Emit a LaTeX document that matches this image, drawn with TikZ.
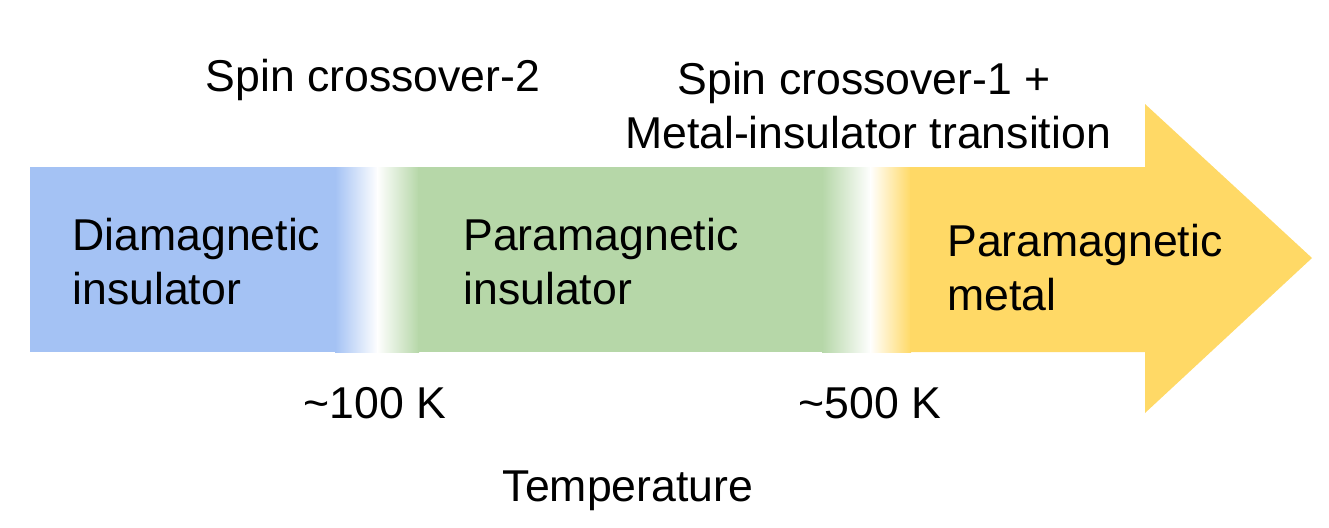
\documentclass[tikz,border=0pt]{standalone}
\usepackage{fontspec}
\setmainfont{Liberation Sans}
\definecolor{cblue}{HTML}{A4C2F4}
\definecolor{cgreen}{HTML}{B6D7A8}
\definecolor{cyellow}{HTML}{FFD966}
\begin{document}
\begin{tikzpicture}[x=0.5pt,y=-0.5pt,
  lbl/.style={inner sep=0pt,font=\fontsize{22.3}{27}\selectfont,text=black}]
\useasboundingbox (0,0) rectangle (1329,527);
% bar
\fill[cblue] (30,167) rectangle (336,352);
\shade[left color=cblue,right color=white] (335,167) rectangle (378,352);
\shade[left color=white,right color=cgreen] (377,167) rectangle (419,352);
\fill[cgreen] (418,167) rectangle (823,352);
\shade[left color=cgreen,right color=white] (822,167) rectangle (871,352);
\shade[left color=white,right color=cyellow] (870,167) rectangle (911,352);
\fill[cyellow] (910,167) -- (1145,167) -- (1145,104) -- (1312,258) -- (1145,413) -- (1145,352) -- (910,352) -- cycle;
% labels
\node[lbl] (sc2) at (373,80) {Spin crossover-2};
\node[lbl,align=center] (sc1) at (868,106) {Spin crossover-1 +\hspace*{4pt}\\Metal-insulator transition};
\node[lbl,align=left,anchor=west] (di) at (72,262) {Diamagnetic\\insulator};
\node[lbl,align=left,anchor=west] (pi) at (463,262) {Paramagnetic\\insulator};
\node[lbl,align=left,anchor=west] (pm) at (947,268) {Paramagnetic\\metal};
\node[lbl] (t1) at (375,403) {\char`~100 K};
\node[lbl] (t2) at (870,403) {\char`~500 K};
\node[lbl] (temp) at (628,491) {Temperature};
\end{tikzpicture}
\end{document}
